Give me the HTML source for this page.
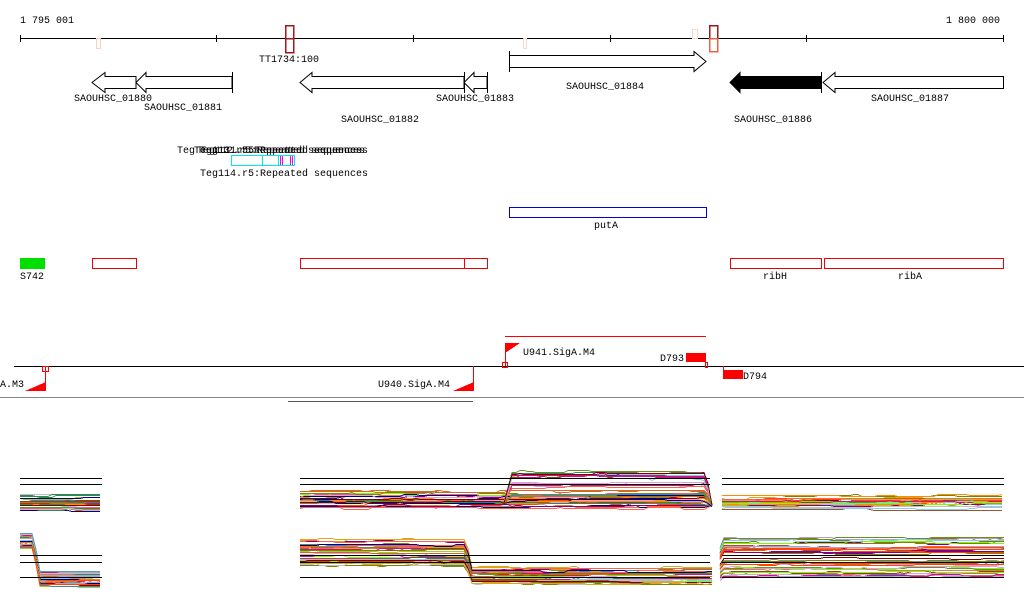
<!DOCTYPE html>
<html><head><meta charset="utf-8"><style>
html,body{margin:0;padding:0;background:#fff;}
svg{display:block;}
text{font-family:"Liberation Mono",monospace;font-size:10px;fill:#000;}
</style></head><body>
<svg id="s" width="1024" height="611" xmlns="http://www.w3.org/2000/svg" shape-rendering="crispEdges">
<line x1="20" y1="38.5" x2="1004" y2="38.5" stroke="#000"/>
<g stroke="#000">
<line x1="20.5" y1="35" x2="20.5" y2="42"/><line x1="216.5" y1="35" x2="216.5" y2="42"/>
<line x1="413.5" y1="35" x2="413.5" y2="42"/><line x1="610.5" y1="35" x2="610.5" y2="42"/>
<line x1="806.5" y1="35" x2="806.5" y2="42"/><line x1="1003.5" y1="35" x2="1003.5" y2="42"/>
</g>
<text x="20" y="23">1 795 001</text>
<text x="1000" y="23" text-anchor="end">1 800 000</text>
<rect x="96.5" y="38.5" width="4" height="10" fill="none" stroke="#f8d0c0"/>
<rect x="285.5" y="25.5" width="8" height="27" fill="none" stroke="#a01818" stroke-width="1.5"/>
<line x1="285" y1="38.5" x2="294" y2="38.5" stroke="#a01818" stroke-width="1.5"/>
<text x="289" y="62" text-anchor="middle">TT1734:100</text>
<rect x="523.5" y="38.5" width="3" height="10" fill="none" stroke="#f8d8d0"/>
<rect x="692.5" y="29.5" width="5" height="9" fill="none" stroke="#f8d8c8"/>
<rect x="709.5" y="25.5" width="8" height="13" fill="none" stroke="#a01818" stroke-width="1.5"/>
<rect x="709.5" y="38.5" width="8" height="13" fill="none" stroke="#f06040" stroke-width="1.5"/>
<g fill="#fff" stroke="#000" shape-rendering="auto">
<polygon points="92,82.5 105,72.5 105,76.5 136,76.5 136,88.5 105,88.5 105,92.5"/>
<polygon points="136,82.5 146,72.5 146,76.5 232,76.5 232,88.5 146,88.5 146,92.5"/>
<line x1="232.5" y1="72" x2="232.5" y2="93"/>
<polygon points="300,82.5 312,72.5 312,76.5 464,76.5 464,88.5 312,88.5 312,92.5"/>
<polygon points="464,82.5 474,72.5 474,76.5 487,76.5 487,88.5 474,88.5 474,92.5"/>
<line x1="487.5" y1="72" x2="487.5" y2="93"/><line x1="464.5" y1="72" x2="464.5" y2="93"/>
<polygon points="706,61.5 694,51.5 694,55.5 509.5,55.5 509.5,67.5 694,67.5 694,71.5"/>
<line x1="509.5" y1="51" x2="509.5" y2="72"/>
<polygon points="730,82.5 740,72.5 740,76.5 821,76.5 821,88.5 740,88.5 740,92.5" fill="#000"/>
<line x1="821.5" y1="72" x2="821.5" y2="93"/>
<polygon points="823,82.5 835,72.5 835,76.5 1003.5,76.5 1003.5,88.5 835,88.5 835,92.5"/>
</g>
<text x="113" y="101" text-anchor="middle">SAOUHSC_01880</text>
<text x="183" y="110" text-anchor="middle">SAOUHSC_01881</text>
<text x="380" y="122" text-anchor="middle">SAOUHSC_01882</text>
<text x="475" y="101" text-anchor="middle">SAOUHSC_01883</text>
<text x="605" y="89" text-anchor="middle">SAOUHSC_01884</text>
<text x="773" y="122" text-anchor="middle">SAOUHSC_01886</text>
<text x="910" y="101" text-anchor="middle">SAOUHSC_01887</text>
<text x="177" y="153">Teg</text>
<text x="194" y="153">Teg113.r5:Repeated sequences</text>
<text x="197" y="153">Teg112.r5:Repeated sequences</text>
<text x="200" y="153">Teg111.r5:Repeated sequences</text>
<rect x="231.5" y="155.5" width="63" height="10" fill="none" stroke="#00e8f0"/>
<line x1="262.5" y1="155" x2="262.5" y2="166" stroke="#00e8f0"/>
<line x1="278.5" y1="155" x2="278.5" y2="166" stroke="#00e8f0"/>
<g stroke="#f000f0"><line x1="280.5" y1="156" x2="280.5" y2="165"/><line x1="282.5" y1="156" x2="282.5" y2="165"/><line x1="290.5" y1="156" x2="290.5" y2="165"/><line x1="292.5" y1="156" x2="292.5" y2="165"/></g>
<text x="200" y="176">Teg114.r5:Repeated sequences</text>
<rect x="509.5" y="207.5" width="197" height="10" fill="none" stroke="#0000e0"/>
<text x="606" y="228" text-anchor="middle">putA</text>
<rect x="20" y="258" width="25" height="11" fill="#00e000"/>
<text x="20" y="279">S742</text>
<g fill="none" stroke="#f00000">
<rect x="92.5" y="258.5" width="44" height="10"/>
<rect x="300.5" y="258.5" width="164" height="10"/>
<rect x="464.5" y="258.5" width="23" height="10"/>
<rect x="730.5" y="258.5" width="91" height="10"/>
<rect x="824.5" y="258.5" width="179" height="10"/>
</g>
<text x="775" y="279" text-anchor="middle">ribH</text>
<text x="910" y="279" text-anchor="middle">ribA</text>
<line x1="14" y1="366.5" x2="1024" y2="366.5" stroke="#000"/>
<line x1="505" y1="336.5" x2="706" y2="336.5" stroke="#f00"/>
<g fill="#f00" stroke="#f00">
<line x1="505.5" y1="343" x2="505.5" y2="366" />
<polygon points="505,343 520,343 505,353" stroke="none"/>
<rect x="686" y="353" width="20" height="9" stroke="none"/>
<line x1="723.5" y1="366" x2="723.5" y2="371"/>
<rect x="723" y="370" width="20" height="9" stroke="none"/>
<line x1="45.5" y1="366" x2="45.5" y2="391"/>
<polygon points="25,391 46,391 46,382" stroke="none"/>
<line x1="473.5" y1="366" x2="473.5" y2="391"/>
<polygon points="453,391 474,391 474,382" stroke="none"/>
</g>
<g fill="none" stroke="#f00">
<rect x="502.5" y="362.5" width="5" height="5"/>
<rect x="705.5" y="362.5" width="2" height="5"/>
<rect x="42.5" y="366.5" width="6" height="5"/>
</g>
<text x="523" y="355">U941.SigA.M4</text>
<text x="684" y="361" text-anchor="end">D793</text>
<text x="743" y="379">D794</text>
<text x="24" y="387" text-anchor="end">A.M3</text>
<text x="450" y="387" text-anchor="end">U940.SigA.M4</text>
<line x1="0" y1="397.5" x2="1024" y2="397.5" stroke="#888"/>
<line x1="288" y1="401.5" x2="473" y2="401.5" stroke="#555"/>
<g id="expr" fill="none" stroke-width="1"></g>
</svg>
<script>
(function(){
var g=document.getElementById('expr');
var seed=7;function r(){seed=(seed*16807)%2147483647;return seed/2147483647;}
var cols=['#d2691e','#ff6347','#9acd32','#808000','#800080','#c71585','#87ceeb','#5f9ea0','#cd853f','#b0a0d0','#000080','#a0522d','#7cfc00','#ff4500','#daa520','#8b4513','#4682b4','#dda0dd','#2e8b57','#ff8c00','#6b8e23','#800000','#c0c0c0','#e06080'];
function add(pts,c){var p=document.createElementNS('http://www.w3.org/2000/svg','polyline');p.setAttribute('points',pts);p.setAttribute('stroke',c);g.appendChild(p);}
function hl(x1,x2,y){add(x1+','+(y+.5)+' '+x2+','+(y+.5),'#000');}
function band(x1,x2,f,n,lin){
 for(var i=0;i<n;i++){
  var o=r()*2-1; if(!lin) o=o*Math.abs(o)*0.5+o*0.5;
  var c=cols[Math.floor(r()*cols.length)];
  var pts=[],nz=0;
  for(var x=x1;x<=x2;x+=4){ if(r()<0.12)nz=Math.round((r()-0.5)*3); var y=Math.round(f(x,o)+nz); pts.push(x+','+(y+.5)); }
  add(pts.join(' '),c);
 }
}
function lerp(x,a,b,ya,yb){if(x<=a)return ya;if(x>=b)return yb;return ya+(yb-ya)*(x-a)/(b-a);}
band(20,102,function(x,o){return 502+o*8;},30);
band(300,712,function(x,o){return lerp(x,706,712,500+o*9,504);},30);
band(300,712,function(x,o){var y=lerp(x,505,511,502,486+o*18);return lerp(x,706,712,y,505);},22,true);
band(722,1004,function(x,o){return 503+o*8;},32);
band(20,102,function(x,o){return lerp(x,33,40,540+o*8,578+o*8);},30);
band(300,712,function(x,o){return lerp(x,466,472,553+o*14,576+o*9);},38);
band(720,1004,function(x,o){return lerp(x,716,722,576+o*9,558+o*20);},40,true);
[[20,102],[300,710],[722,1004]].forEach(function(s){hl(s[0],s[1],478);hl(s[0],s[1],484);hl(s[0],s[1],555);hl(s[0],s[1],562);hl(s[0],s[1],577);});
})();
</script>
</body></html>
